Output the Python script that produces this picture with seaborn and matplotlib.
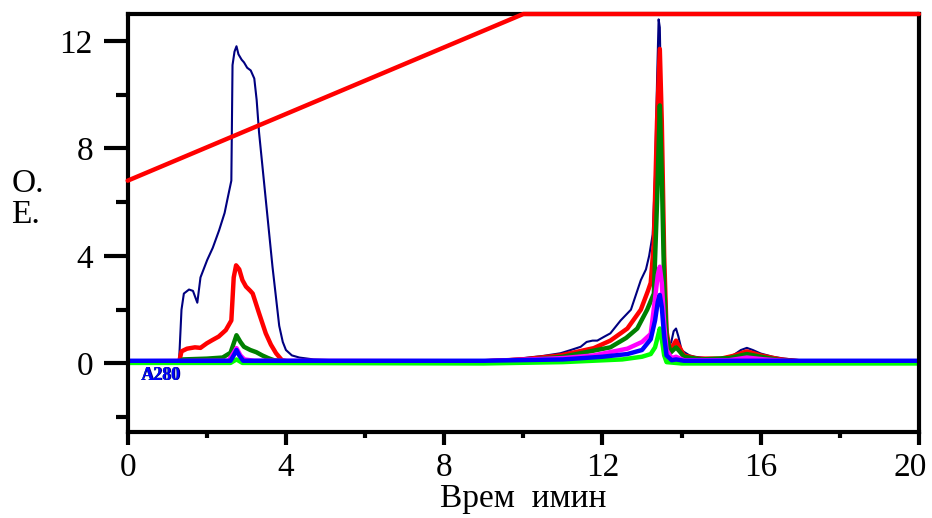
import pandas as pd
import matplotlib
matplotlib.use("Agg")
import matplotlib.pyplot as plt
import matplotlib.transforms as mtransforms
import seaborn as sns
from matplotlib.ticker import MultipleLocator

# chromatogram traces, (time min, absorbance)
navy = [(0, 0.12), (1.30, 0.12), (1.36, 2.0), (1.42, 2.6), (1.55, 2.75), (1.65, 2.7),
        (1.76, 2.26), (1.84, 3.2), (2.01, 3.85), (2.15, 4.3), (2.31, 4.95), (2.45, 5.6),
        (2.52, 6.1), (2.62, 6.8), (2.65, 11.1), (2.70, 11.6), (2.75, 11.8), (2.80, 11.5),
        (2.88, 11.3), (2.94, 11.2), (3.02, 11.0), (3.11, 10.9), (3.20, 10.6), (3.26, 9.8),
        (3.32, 8.6), (3.49, 6.1), (3.66, 3.6), (3.83, 1.4), (3.92, 0.8), (4.00, 0.5),
        (4.15, 0.3), (4.34, 0.22), (4.7, 0.15), (5.2, 0.12), (6, 0.1), (8, 0.1), (9, 0.12),
        (9.5, 0.15), (10, 0.2), (10.5, 0.28), (10.94, 0.38), (11.2, 0.5), (11.45, 0.62),
        (11.6, 0.8), (11.75, 0.85), (11.87, 0.85), (12.05, 1.0), (12.2, 1.12), (12.46, 1.6),
        (12.72, 2.0), (12.97, 3.1), (13.1, 3.5), (13.18, 4.0), (13.27, 4.8), (13.33, 7.0),
        (13.38, 10.5), (13.42, 12.8), (13.45, 12.5), (13.48, 10.0), (13.52, 7.0),
        (13.56, 4.0), (13.62, 1.5), (13.68, 0.65), (13.74, 0.8), (13.8, 1.2), (13.86, 1.3),
        (13.92, 1.0), (14.0, 0.5), (14.06, 0.43), (14.2, 0.3), (14.33, 0.25), (14.6, 0.2),
        (15.0, 0.2), (15.3, 0.3), (15.5, 0.5), (15.65, 0.58), (15.8, 0.5), (16.0, 0.37),
        (16.3, 0.25), (16.6, 0.18), (17.0, 0.12), (18, 0.1), (20, 0.1)]

red = [(0, 0.05), (1.3, 0.05), (1.36, 0.45), (1.5, 0.55), (1.7, 0.6), (1.84, 0.58),
       (2.0, 0.75), (2.14, 0.87), (2.3, 1.0), (2.48, 1.24), (2.62, 1.6), (2.68, 3.2),
       (2.74, 3.65), (2.82, 3.5), (2.9, 3.1), (2.99, 2.86), (3.1, 2.7), (3.16, 2.6),
       (3.32, 1.87), (3.49, 1.12), (3.62, 0.7), (3.75, 0.38), (3.9, 0.12), (4.1, 0.06),
       (6, 0.05), (9, 0.08), (10, 0.15), (10.94, 0.3), (11.78, 0.57), (12.2, 0.85),
       (12.63, 1.3), (12.97, 2.0), (13.15, 2.7), (13.22, 3.0), (13.3, 4.5), (13.38, 9.0),
       (13.45, 11.7), (13.5, 9.0), (13.56, 4.0), (13.62, 1.2), (13.7, 0.5), (13.8, 0.7),
       (13.86, 0.85), (13.95, 0.6), (14.06, 0.3), (14.4, 0.18), (15, 0.18), (15.3, 0.28),
       (15.65, 0.45), (16.0, 0.3), (16.5, 0.15), (17, 0.08), (20, 0.06)]

green = [(0, 0.08), (1.3, 0.08), (1.4, 0.15), (2.0, 0.18), (2.4, 0.22), (2.6, 0.4),
         (2.75, 1.05), (2.85, 0.8), (2.94, 0.62), (3.1, 0.5), (3.25, 0.42), (3.4, 0.3),
         (3.55, 0.2), (3.7, 0.12), (4.0, 0.08), (9, 0.06), (10, 0.12), (11, 0.25),
         (12.2, 0.6), (12.6, 0.95), (12.88, 1.3), (13.13, 2.0), (13.3, 2.6), (13.38, 6.0),
         (13.45, 9.6), (13.5, 7.0), (13.56, 3.0), (13.62, 1.0), (13.72, 0.4), (13.86, 0.6),
         (13.95, 0.45), (14.06, 0.25), (14.5, 0.15), (15.2, 0.2), (15.65, 0.35),
         (16.0, 0.25), (16.5, 0.12), (17, 0.06), (20, 0.05)]

magenta = [(0, 0.08), (2.55, 0.1), (2.68, 0.4), (2.75, 0.57), (2.85, 0.3), (2.95, 0.15),
           (3.2, 0.1), (9, 0.08), (11, 0.2), (11.78, 0.3), (12.63, 0.55), (13.0, 0.8),
           (13.22, 1.1), (13.32, 2.3), (13.4, 3.3), (13.45, 3.6), (13.5, 3.0), (13.56, 1.5),
           (13.62, 0.5), (13.75, 0.2), (13.86, 0.25), (14.06, 0.12), (15.2, 0.12),
           (15.65, 0.22), (16.1, 0.15), (17, 0.06), (20, 0.05)]

lime = [(0, 0.02), (2.6, 0.02), (2.75, 0.15), (2.9, 0.02), (9, 0.0), (11, 0.05),
        (12.5, 0.15), (13.0, 0.25), (13.22, 0.35), (13.33, 0.6), (13.4, 1.0), (13.45, 1.3),
        (13.5, 0.9), (13.56, 0.3), (13.62, 0.05), (14, 0.0), (20, 0.0)]

blue = [(0, 0.1), (2.6, 0.1), (2.7, 0.35), (2.75, 0.5), (2.82, 0.3), (2.92, 0.1), (9, 0.1),
        (11, 0.15), (12.0, 0.25), (12.63, 0.35), (13.0, 0.5), (13.22, 0.9), (13.33, 1.6),
        (13.4, 2.3), (13.45, 2.55), (13.5, 2.1), (13.56, 1.0), (13.62, 0.3), (13.75, 0.12),
        (13.86, 0.15), (14.06, 0.1), (20, 0.1)]

# gradient line
gradient = [(0, 6.8), (10, 13.0), (20, 13.0)]

x_ticks = [0, 4, 8, 12, 16, 20]
y_ticks = [0, 4, 8, 12]

sns.set_theme(style="white")
plt.rcParams['font.family'] = ['Liberation Serif', 'DejaVu Serif']
plt.rcParams['text.color'] = 'black'
plt.rcParams['axes.labelcolor'] = 'black'
plt.rcParams['xtick.color'] = 'black'
plt.rcParams['ytick.color'] = 'black'

fig = plt.figure(figsize=(9.32, 5.18), dpi=100)
ax = fig.add_axes([0.137, 0.166, 0.849, 0.807])

traces = [(navy, '#000080', 1.5), (red, '#ff0000', 3.2), (green, '#008000', 3.2),
          (magenta, '#ff00ff', 3.2), (lime, '#00ff00', 3.2), (blue, '#0000ff', 3.2)]
for pts, col, lw in traces:
    df = pd.DataFrame(pts, columns=['t', 'v'])
    sns.lineplot(data=df, x='t', y='v', color=col, lw=lw, estimator=None,
                 sort=False, ax=ax)

gdf = pd.DataFrame(gradient, columns=['t', 'v'])
sns.lineplot(data=gdf, x='t', y='v', color='#ff0000', lw=3.2, estimator=None,
             sort=False, ax=ax, clip_on=False, zorder=5)

# label drawn several times like in the original export
for dx, col in [(0.0, '#008000'), (0.02, '#000080'), (0.01, '#0000ff')]:
    ax.text(0.33 + dx, -0.62, 'A280', color=col, fontsize=13, fontweight='bold')

ax.set_xlim(0, 20)
ax.set_ylim(-2.55, 13.0)
ax.set_xticks(x_ticks)
ax.set_yticks(y_ticks)
ax.xaxis.set_minor_locator(MultipleLocator(2))
ax.yaxis.set_minor_locator(MultipleLocator(2))
ax.tick_params(axis='y', which='major', direction='out', length=17, width=3,
               labelsize=24, pad=8, left=True)
ax.tick_params(axis='y', which='minor', direction='out', length=9, width=3, left=True)
ax.tick_params(axis='x', which='major', direction='out', length=9, width=3,
               labelsize=24, pad=6, bottom=True)
ax.tick_params(axis='x', which='minor', direction='out', length=4, width=3, bottom=True)

for sp in ax.spines.values():
    sp.set_visible(True)
    sp.set_color('black')
    sp.set_linewidth(3)

# last x label sits a bit left so it stays inside the figure
last = ax.get_xticklabels()[-1]
last.set_transform(last.get_transform() +
                   mtransforms.ScaledTranslation(-6 / 72, 0, fig.dpi_scale_trans))

ax.set_xlabel('Врем  имин', fontsize=24, labelpad=0)
ax.set_ylabel('')
fig.text(0.012, 0.615, 'O.\nE.', fontsize=24, ha='left', va='center', linespacing=1.0)

fig.savefig('out.png', dpi=100)
